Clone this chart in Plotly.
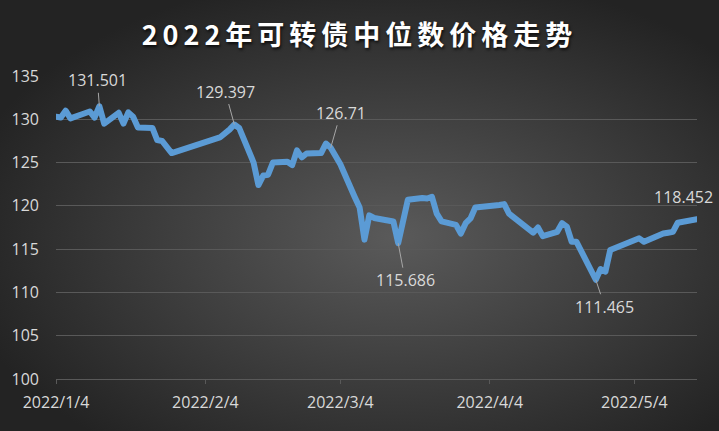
import base64
import plotly.graph_objects as go

# trading days, 2022 (holidays: spring festival, qingming, labour day)
dates = [
    "2022-01-04", "2022-01-05", "2022-01-06", "2022-01-07",
    "2022-01-10", "2022-01-11", "2022-01-12", "2022-01-13", "2022-01-14",
    "2022-01-17", "2022-01-18", "2022-01-19", "2022-01-20", "2022-01-21",
    "2022-01-24", "2022-01-25", "2022-01-26", "2022-01-27", "2022-01-28",
    "2022-02-07", "2022-02-08", "2022-02-09", "2022-02-10", "2022-02-11",
    "2022-02-14", "2022-02-15", "2022-02-16", "2022-02-17", "2022-02-18",
    "2022-02-21", "2022-02-22", "2022-02-23", "2022-02-24", "2022-02-25",
    "2022-02-28", "2022-03-01", "2022-03-02", "2022-03-03", "2022-03-04",
    "2022-03-07", "2022-03-08", "2022-03-09", "2022-03-10", "2022-03-11",
    "2022-03-14", "2022-03-15", "2022-03-16", "2022-03-17", "2022-03-18",
    "2022-03-21", "2022-03-22", "2022-03-23", "2022-03-24", "2022-03-25",
    "2022-03-28", "2022-03-29", "2022-03-30", "2022-03-31", "2022-04-01",
    "2022-04-06", "2022-04-07", "2022-04-08",
    "2022-04-11", "2022-04-12", "2022-04-13", "2022-04-14", "2022-04-15",
    "2022-04-18", "2022-04-19", "2022-04-20", "2022-04-21", "2022-04-22",
    "2022-04-25", "2022-04-26", "2022-04-27", "2022-04-28", "2022-04-29",
    "2022-05-05", "2022-05-06",
    "2022-05-09", "2022-05-10", "2022-05-11", "2022-05-12", "2022-05-13",
    "2022-05-16", "2022-05-17",
]

prices = [
    130.3, 130.2, 131.0, 130.1,
    130.7, 130.9, 130.2, 131.501, 129.5,
    130.75, 129.5, 130.8, 130.3, 129.05,
    129.0, 127.6, 127.5, 126.8, 126.1,
    127.9, 128.3, 128.8, 129.397, 129.0,
    125.0, 122.4, 123.5, 123.6, 125.0,
    125.1, 124.7, 126.4, 125.6, 126.05,
    126.1, 127.2, 126.71, 125.9, 124.8,
    121.0, 119.8, 116.1, 118.9, 118.6,
    118.4, 118.2, 115.686, 118.6, 120.7,
    120.9, 120.85, 121.05, 119.1, 118.2,
    117.8, 116.8, 118.0, 118.55, 119.8,
    120.1, 120.2, 119.1,
    117.9, 117.5, 116.9, 117.5, 116.5,
    117.0, 118.0, 117.6, 115.85, 115.85,
    112.8, 111.465, 112.7, 112.4, 114.9,
    116.25, 115.85,
    116.6, 116.8, 116.9, 117.0, 118.05,
    118.35, 118.452,
]

tick_dates = ["2022-01-04", "2022-02-04", "2022-03-04", "2022-04-04", "2022-05-04"]
tick_text = ["2022/1/4", "2022/2/4", "2022/3/4", "2022/4/4", "2022/5/4"]

# points that carry a value label
label_dates = ["2022-01-13", "2022-02-10", "2022-03-02", "2022-03-16", "2022-04-26", "2022-05-17"]

W, H = 719, 431
L, R, T, B = 56, 22, 76, 52

# dark radial background like the excel chart style
svg = (
    f'<svg xmlns="http://www.w3.org/2000/svg" width="{W}" height="{H}">'
    '<defs><radialGradient id="g" cx="55%" cy="55%" r="62%">'
    '<stop offset="0" stop-color="#5a5a5a"/><stop offset="1" stop-color="#232323"/>'
    '</radialGradient></defs>'
    f'<rect width="{W}" height="{H}" fill="url(#g)"/></svg>'
)
bg_src = "data:image/svg+xml;base64," + base64.b64encode(svg.encode()).decode()

pw, ph = W - L - R, H - T - B
lab_font = dict(family="Open Sans", size=16, color="#d9d9d9")

fig = go.Figure()
fig.add_trace(go.Scatter(
    x=dates, y=prices, mode="lines",
    line=dict(color="#5B9BD5", width=6),
    hoverinfo="skip",
))

# label offsets in pixels (text centre relative to the point)
offsets = [(-2, -26), (-9, -33), (10, -35), (7, 37), (9, 27)]
for d, (ax, ay) in zip(label_dates[:-1], offsets):
    v = prices[dates.index(d)]
    fig.add_annotation(
        x=d, y=v, text=str(v), showarrow=True, ax=ax, ay=ay,
        arrowhead=0, arrowwidth=1, arrowcolor="#a6a6a6", standoff=0,
        font=lab_font,
    )
last = label_dates[-1]
fig.add_annotation(
    x=last, y=prices[dates.index(last)], text=str(prices[dates.index(last)]),
    showarrow=False, xshift=-14, yshift=22, font=lab_font,
)

fig.update_layout(
    width=W, height=H,
    margin=dict(l=L, r=R, t=T, b=B),
    paper_bgcolor="#3a3a3a",
    plot_bgcolor="rgba(0,0,0,0)",
    showlegend=False,
    title=dict(
        text="2022年可转债中位数价格走势",
        x=0.5, xanchor="center", y=1 - 36 / H, yanchor="middle",
        font=dict(family="Noto Sans CJK SC", size=27, color="white", weight="bold",
                  shadow="1px 2px 3px rgba(0,0,0,0.75)"),
    ),
    images=[dict(
        source=bg_src, xref="paper", yref="paper",
        x=-L / pw, y=1 + T / ph, sizex=W / pw, sizey=H / ph,
        xanchor="left", yanchor="top", sizing="stretch", layer="below",
    )],
)

fig.update_xaxes(
    type="date", range=["2022-01-04", "2022-05-17"],
    tickvals=tick_dates, ticktext=tick_text,
    showgrid=False, zeroline=False,
    showline=True, linecolor="#595959", linewidth=1,
    ticks="outside", ticklen=4, tickcolor="#595959",
    ticklabelstandoff=5,
    tickfont=lab_font,
)
fig.update_yaxes(
    range=[100, 135], dtick=5, tick0=100,
    showgrid=True, gridcolor="#595959", gridwidth=1,
    zeroline=False, showline=False, ticks="",
    ticklabelstandoff=16,
    tickfont=lab_font,
)

post = (
    "document.body.style.margin='0';"
    "var t=document.querySelector('.gtitle');if(t){t.style.letterSpacing='5px';}"
    "document.querySelectorAll('.js-line').forEach(function(p){"
    "p.style.strokeLinejoin='round';p.style.strokeLinecap='round';});"
)

fig.write_html("out.html", post_script=post, config={"displayModeBar": False})
